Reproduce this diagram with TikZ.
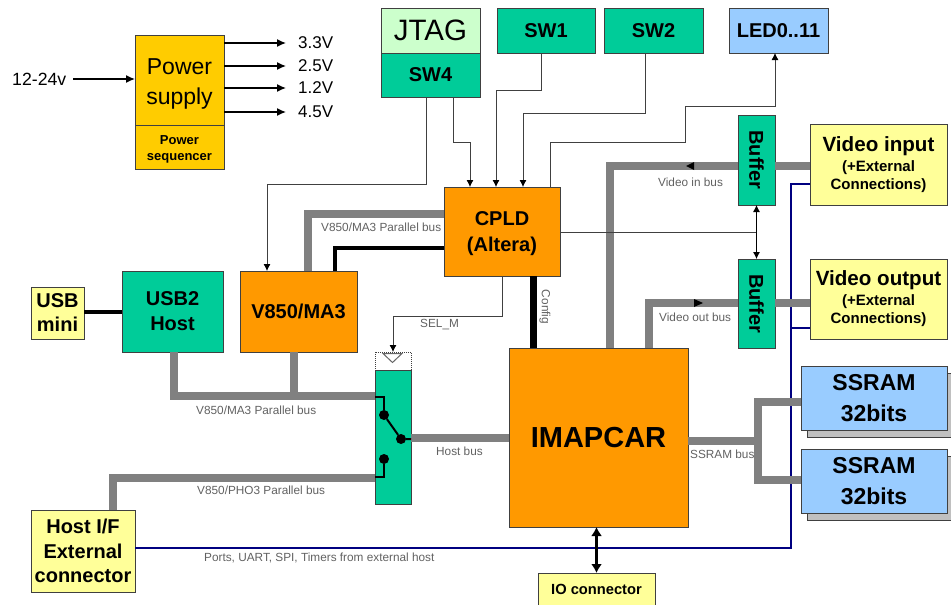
\documentclass[tikz,border=0pt]{standalone}
\usepackage{fontspec}
\setmainfont{Liberation Sans}
\usetikzlibrary{arrows.meta,calc}
\newcommand{\fs}[1]{\fontsize{#1pt}{\dimexpr #1pt*12/10\relax}\selectfont}
\definecolor{green1}{HTML}{00CC99}
\definecolor{orange1}{HTML}{FF9900}
\definecolor{yellow1}{HTML}{FFFF99}
\definecolor{blue1}{HTML}{99CCFF}
\definecolor{gold1}{HTML}{FFCC00}
\definecolor{jtagc}{HTML}{CCFFCC}
\definecolor{busgrey}{HTML}{808080}
\definecolor{navy1}{HTML}{000080}
\definecolor{shade1}{HTML}{C0C0C0}
\tikzset{
  x=1pt,y=-1pt,
  bx/.style 2 args={draw=black!75,line width=1pt,minimum width=#1pt,minimum height=#2pt,inner sep=0pt,outer sep=0pt,align=center,text=black},
  grn/.style={fill=green1},org/.style={fill=orange1},yel/.style={fill=yellow1},blu/.style={fill=blue1},
  bf/.style={font=\bfseries\fs{20}},
  lbl/.style={text=black!62,font=\fs{11.8},inner sep=0pt,anchor=west},
  sig/.style={draw=black!75,line width=.8pt},
  sarrow/.style={sig,-{Latex[length=7pt,width=7pt,black]}},
  bus/.style={draw=busgrey,line width=8pt},
  blk/.style={draw=black,line width=4pt},
  hostline/.style={draw=navy1,line width=2.4pt},
  pw/.style={draw=black,line width=1.4pt,-{Latex[length=9pt,width=8pt]}},
  volt/.style={font=\fs{17},inner sep=0pt,anchor=west},
  dot/.style={circle,fill=black,minimum size=10pt,inner sep=0pt,outer sep=0pt},
}
\begin{document}
\begin{tikzpicture}
\useasboundingbox (0,0) rectangle (951,605);
% shadows
\node[bx={144}{64},fill=shade1] (sh1) at (879,405) {};
\node[bx={144}{64},fill=shade1] (sh2) at (879,488) {};
% boxes
\node[bx={89}{90},fill=gold1,font=\fs{23}] (ps) at (179.5,80) {\rule{0pt}{24pt}Power\\[2.5pt]supply};
\node[bx={89}{44},fill=gold1,font=\bfseries\fs{13}] (seq) at (179.5,147) {\rule{0pt}{13.5pt}Power\\sequencer};
\node[bx={99}{45},fill=jtagc,font=\fs{29.5}] (jtag) at (430.5,30.5) {JTAG};
\node[bx={99}{44},grn,bf] (sw4) at (430.5,75) {SW4};
\node[bx={98}{45},grn,bf] (sw1) at (546,30.5) {SW1};
\node[bx={99}{45},grn,bf] (sw2) at (653.5,30.5) {SW2};
\node[bx={99}{45},blu,bf] (led) at (778.5,30.5) {LED0..11};
\node[bx={37}{90},grn,bf] (buf1) at (756.5,160) {\rotatebox{-90}{Buffer}};
\node[bx={37}{89},grn,bf] (buf2) at (756.5,303.5) {\rotatebox{-90}{Buffer}};
\node[bx={137}{81},yel] (vin) at (878.5,164.5) {\bfseries\fs{20.6}Video input\\[4pt]\bfseries\fs{15}(+External\\[3pt]\bfseries\fs{15}Connections)};
\node[bx={137}{80},yel] (vout) at (878.5,299) {\bfseries\fs{20.6}Video output\\[4pt]\bfseries\fs{15}(+External\\[3pt]\bfseries\fs{15}Connections)};
\node[bx={146}{64},blu,font=\bfseries\fs{23}] (ram1) at (874,398) {SSRAM\\[3pt]32bits};
\node[bx={146}{64},blu,font=\bfseries\fs{23}] (ram2) at (874,481) {SSRAM\\[3pt]32bits};
\node[bx={179}{179},org,font=\bfseries\fs{29}] (imap) at (598.5,437.5) {IMAPCAR};
\node[bx={116}{89},org,bf] (cpld) at (502,231.5) {\rule{0pt}{18pt}CPLD\\[2pt](Altera)};
\node[bx={117}{81},org,bf] (v850) at (298.5,311.5) {V850/MA3};
\node[bx={101}{81},grn,bf] (usb2) at (172.5,311.5) {USB2\\[1pt]Host};
\node[bx={53}{52},yel,bf] (usbm) at (57.5,313) {USB\\mini};
\node[bx={104}{82},yel,bf] (host) at (83,551) {Host I/F\\[.5pt]External\\[.5pt]connector};
\node[minimum width=117pt,minimum height=32pt,inner sep=0pt,outer sep=0pt,fill=yellow1,font=\bfseries\fs{14.7},anchor=north] (io) at (596.5,573) {IO connector};
\draw[draw=black!75,line width=1pt] (io.south west) -- (io.north west) -- (io.north east) -- (io.south east);
\node[bx={36}{18},fill=white,densely dotted] (swtop) at (393,361) {};
\node[bx={36}{134},grn] (mux) at (393,437) {};
% host line (blue) under the grey buses
\coordinate (bluex) at (791,184);
\draw[hostline] (host.east |- 0,548) -- (791,548) -- (bluex) -- (vin.west |- bluex);
\draw[hostline] (791,328) -- (vout.west |- 0,328);
% grey buses
\draw[bus] (imap.north west) ++(101,0) |- (buf1.west |- 0,166);
\draw[bus] (buf1.east |- 0,166) -- (vin.west |- 0,166);
\draw[bus] (imap.north west) ++(140,0) |- (buf2.west |- 0,303);
\draw[bus] (buf2.east |- 0,303) -- (vout.west |- 0,303);
\draw[bus] (mux.east |- 0,438) -- (imap.west |- 0,438);
\coordinate (brk) at (758,441);
\draw[bus] (imap.east |- brk) -- (brk);
\draw[bus] (ram1.west |- 0,402) -| (brk) |- (ram2.west |- 0,480);
\draw[bus] (usb2.south) ++(1.5,0) |- (mux.west |- 0,396);
\draw[bus] (v850.south) ++(-4.5,0) -- ++(0,44);
\draw[bus] (host.north) ++(30,0) |- (mux.west |- 0,478);
\draw[bus] (v850.north) ++(9.5,0) |- (cpld.west |- 0,214);
% black buses
\draw[blk] (v850.north) ++(36.5,0) |- (cpld.west |- 0,248);
\draw[blk] (usbm.east |- 0,312) -- (usb2.west |- 0,312);
\draw[blk,line width=7pt] (cpld.south) ++(31,0) -- (imap.north -| 533,0);
% bus direction marks
\fill (686,166) -- (694,162) -- (694,170) -- cycle;
\fill (703,303) -- (694,299) -- (694,307) -- cycle;
% signals
\draw[sarrow] ([xshift=-4.5pt]sw4.south) -- ++(0,87) -| (v850.north -| 267,0);
\draw[sarrow] ([xshift=22.5pt]sw4.south) -- ++(0,45) -| (cpld.north -| 470,0);
\draw[sarrow] ([xshift=-5pt]sw1.south) -- ++(0,37) -| (cpld.north -| 496,0);
\draw[sarrow] ([xshift=-8.5pt]sw2.south) -- ++(0,60) -| (cpld.north -| 523,0);
\draw[sarrow] (cpld.north -| 550,0) -- ++(0,-45) -- ++(135,0) -- ++(0,-36) -| (led.south -| 775,0);
\draw[sarrow] (cpld.south) -- ++(0,40) -| (swtop.north);
\coordinate (bufmid) at (756,232);
\draw[sig] (cpld.east |- bufmid) -- (bufmid);
\draw[sig,black,{Latex[length=7pt,width=7pt]}-{Latex[length=7pt,width=7pt]}] (buf1.south) -- (buf2.north);
% IO arrow
\draw[draw=black,line width=2.6pt,{Latex[length=9pt,width=11pt]}-{Latex[length=9pt,width=11pt]}] (imap.south -| io.north) -- (io.north);
% power arrows
\coordinate (in) at (73,79);
\draw[pw] (in) -- (ps.west |- in);
\draw[pw] (ps.east |- 0,43) -- (286,43);
\draw[pw] (ps.east |- 0,66) -- (286,66);
\draw[pw] (ps.east |- 0,88) -- (286,88);
\draw[pw] (ps.east |- 0,112) -- (286,112);
\node[font=\fs{17.7},inner sep=0pt,anchor=west] (vi) at (12,79) {12-24v};
\node[volt] (v33) at (298,43) {3.3V};
\node[volt] (v25) at (298,66) {2.5V};
\node[volt] (v12) at (298,88) {1.2V};
\node[volt] (v45) at (298,112) {4.5V};
% switch internals
\fill[white,draw=black!60,line width=1pt] (383,353.5) -- (402,353.5) -- (392.5,362.5) -- cycle;
\node[dot] (d1) at (384,415) {};
\node[dot] (d2) at (401,439) {};
\node[dot] (d3) at (384,459) {};
\draw[black,line width=2pt] (mux.west |- 0,397) -| (d1);
\draw[black,line width=2pt] (d1) -- (d2) -- (mux.east |- d2);
\draw[black,line width=2pt] (d3) |- (mux.west |- 0,477);
% labels
\node[lbl] (l1) at (321,227) {V850/MA3 Parallel bus};
\node[lbl] (l2) at (196,410) {V850/MA3 Parallel bus};
\node[lbl] (l3) at (197,490) {V850/PHO3 Parallel bus};
\node[lbl] (l4) at (436,451) {Host bus};
\node[lbl] (l5) at (690,454) {SSRAM bus};
\node[lbl] (l6) at (658,182) {Video in bus};
\node[lbl] (l7) at (659,317) {Video out bus};
\node[lbl] (l8) at (420,325) {SEL\_M};
\node[lbl,anchor=center,rotate=-90] (l9) at (545,307) {Config};
\node[lbl] (l10) at (204,558) {Ports, UART, SPI, Timers from external host};
\end{tikzpicture}
\end{document}
